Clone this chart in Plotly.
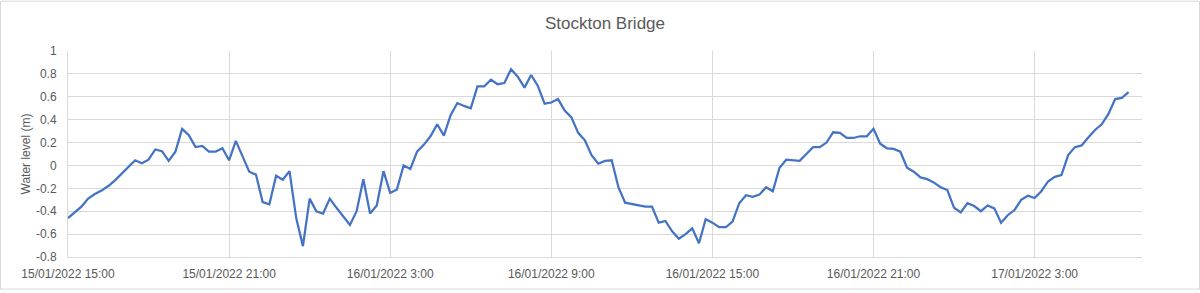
import pandas as pd
import plotly.graph_objects as go

# ---- data ----
start_time = "2022-01-15 15:00"
interval = "15min"
water_level = [
    -0.46, -0.41, -0.36, -0.29, -0.25, -0.22, -0.18, -0.13, -0.07, -0.01,
    0.045, 0.02, 0.05, 0.14, 0.125, 0.04, 0.12, 0.32, 0.265, 0.16,
    0.17, 0.12, 0.12, 0.15, 0.045, 0.215, 0.08, -0.055, -0.08, -0.32,
    -0.34, -0.09, -0.125, -0.05, -0.46, -0.705, -0.29, -0.40, -0.42, -0.29,
    -0.37, -0.45, -0.52, -0.40, -0.12, -0.42, -0.35, -0.05, -0.24, -0.21,
    0.0, -0.03, 0.12, 0.18, 0.255, 0.36, 0.26, 0.44, 0.545, 0.52,
    0.50, 0.69, 0.69, 0.75, 0.71, 0.72, 0.84, 0.775, 0.68, 0.79,
    0.695, 0.54, 0.55, 0.58, 0.48, 0.42, 0.285, 0.22, 0.09, 0.015,
    0.04, 0.045, -0.19, -0.325, -0.335, -0.35, -0.36, -0.36, -0.50, -0.485,
    -0.575, -0.64, -0.60, -0.55, -0.68, -0.47, -0.50, -0.54, -0.54, -0.49,
    -0.33, -0.26, -0.275, -0.255, -0.19, -0.225, -0.02, 0.05, 0.045, 0.04,
    0.10, 0.16, 0.16, 0.20, 0.29, 0.285, 0.24, 0.24, 0.255, 0.255,
    0.32, 0.19, 0.15, 0.145, 0.12, -0.02, -0.055, -0.105, -0.12, -0.15,
    -0.19, -0.215, -0.37, -0.41, -0.33, -0.355, -0.40, -0.35, -0.375, -0.50,
    -0.435, -0.39, -0.30, -0.265, -0.285, -0.225, -0.14, -0.10, -0.085, 0.09,
    0.16, 0.175, 0.245, 0.31, 0.36, 0.45, 0.58, 0.59, 0.64,
]
times = pd.date_range(start=start_time, periods=len(water_level), freq=interval)

x_tick_vals = ["2022-01-15 15:00", "2022-01-15 21:00", "2022-01-16 03:00",
               "2022-01-16 09:00", "2022-01-16 15:00", "2022-01-16 21:00",
               "2022-01-17 03:00"]
x_tick_text = ["15/01/2022 15:00", "15/01/2022 21:00", "16/01/2022 3:00",
               "16/01/2022 9:00", "16/01/2022 15:00", "16/01/2022 21:00",
               "17/01/2022 3:00"]
y_tick_vals = [1, 0.8, 0.6, 0.4, 0.2, 0, -0.2, -0.4, -0.6, -0.8]
y_tick_text = ["1", "0.8", "0.6", "0.4", "0.2", "0", "-0.2", "-0.4", "-0.6", "-0.8"]

x_range = ["2022-01-15 15:00", "2022-01-17 07:00"]
y_range = [-0.8, 1.0]

# ---- figure ----
TEXT = "#595959"
GRID = "#d9d9d9"
FONT = "Liberation Sans"

fig = go.Figure()
fig.add_trace(go.Scatter(
    x=times, y=water_level, mode="lines",
    line=dict(color="#4472C4", width=2.25),
    showlegend=False,
))

L, R, T, B = 68, 58, 51, 33
W, H = 1200, 293
pw, ph = W - L - R, H - T - B

fig.update_layout(
    width=W, height=H,
    margin=dict(l=L, r=R, t=T, b=B, pad=0),
    paper_bgcolor="white", plot_bgcolor="white",
    font=dict(family=FONT, color=TEXT, size=12),
    title=dict(text="Stockton Bridge", x=0.5, xref="paper", xanchor="center",
               y=1 - 23.5 / H, yref="container", yanchor="middle",
               font=dict(size=17, color=TEXT, family=FONT)),
    xaxis=dict(
        type="date", range=x_range,
        tickmode="array", tickvals=x_tick_vals, ticktext=x_tick_text,
        showgrid=True, gridcolor=GRID, gridwidth=1,
        showline=True, linecolor=GRID, linewidth=1,
        zeroline=False, ticks="", ticklabelstandoff=6,
        tickfont=dict(size=12, color=TEXT, family=FONT),
    ),
    yaxis=dict(
        range=y_range,
        tickmode="array", tickvals=y_tick_vals, ticktext=y_tick_text,
        showgrid=True, gridcolor=GRID, gridwidth=1,
        showline=True, linecolor=GRID, linewidth=1,
        zeroline=False, ticks="", ticklabelstandoff=8,
        tickfont=dict(size=12, color=TEXT, family=FONT),
        title=dict(text="Water level (m)", standoff=2,
                   font=dict(size=12, color=TEXT, family=FONT)),
    ),
    shapes=[dict(
        type="rect", xref="paper", yref="paper",
        x0=(0.5 - L) / pw, x1=(W - 0.5 - L) / pw,
        y0=-(B - 0.5) / ph, y1=(ph + T - 0.5) / ph,
        line=dict(color=GRID, width=1), fillcolor="rgba(0,0,0,0)", layer="below",
    )],
)

fig.write_html("out.html")
